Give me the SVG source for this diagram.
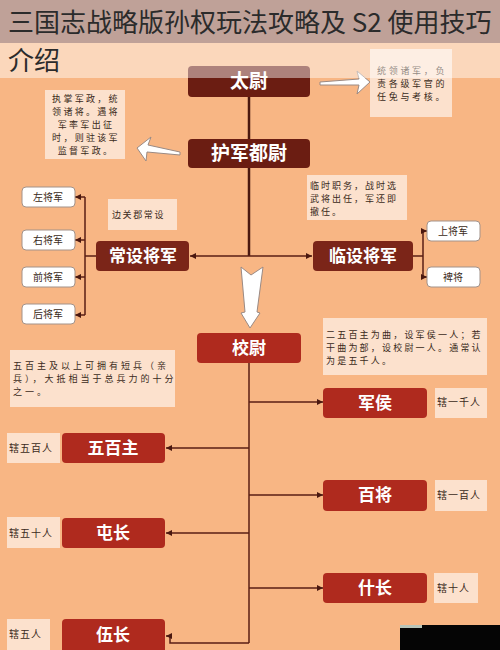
<svg xmlns="http://www.w3.org/2000/svg" width="500" height="650" viewBox="0 0 500 650">
<style>
.note{fill:#FCE1CD}
.nt{font-family:"Noto Sans CJK SC","Noto Sans",sans-serif;font-size:9px;fill:#3a2a20}
.lb{font-family:"Noto Sans CJK SC","Noto Sans",sans-serif;font-size:10px;fill:#3a2a20;letter-spacing:1px}
.b1{fill:#6B1D12}
.b2{fill:#7B2518}
.b3{fill:#AF2A1E}
.bt{font-family:"Noto Sans CJK SC","Noto Sans",sans-serif;font-weight:bold;fill:#ffffff;text-anchor:middle}
.wb{fill:#ffffff;stroke:#a39289;stroke-width:1}
.st{font-family:"Noto Sans CJK SC","Noto Sans",sans-serif;font-size:10px;fill:#3a2a20;text-anchor:middle}
.ln{fill:none;stroke:#5A1E14;stroke-width:1.5}
.lnb{fill:none;stroke:#4A1810;stroke-width:2.5}
.ha{fill:#ffffff;stroke:#9a8a84;stroke-width:1}
</style>
<defs>
<marker id="ah" viewBox="0 0 10 10" refX="10" refY="5" markerWidth="6" markerHeight="6" markerUnits="userSpaceOnUse" orient="auto">
<path d="M0,0 L10,5 L0,10 z" fill="#4A1810"/>
</marker>
</defs>
<rect x="0" y="0" width="500" height="650" fill="#F8B684"/>

<g id="connectors">
<path class="lnb" d="M249,97 V139"/>
<path class="lnb" d="M249,168 V256"/>
<path class="ln" d="M249,256 H190" marker-end="url(#ah)"/>
<path class="ln" d="M249,256 H312" marker-end="url(#ah)"/>
<path class="ln" d="M96,256 H85"/>
<path class="ln" d="M85,197 V315"/>
<path class="ln" d="M85,197 H75" marker-end="url(#ah)"/>
<path class="ln" d="M85,240 H75" marker-end="url(#ah)"/>
<path class="ln" d="M85,277 H75" marker-end="url(#ah)"/>
<path class="ln" d="M85,315 H75" marker-end="url(#ah)"/>
<path class="ln" d="M413,256 H423"/>
<path class="ln" d="M423,231 V277"/>
<path class="ln" d="M423,231 H427" marker-end="url(#ah)"/>
<path class="ln" d="M423,277 H427" marker-end="url(#ah)"/>
<path class="ln" d="M249,363 V643"/>
<path class="ln" d="M249,402 H323" marker-end="url(#ah)"/>
<path class="ln" d="M249,495 H323" marker-end="url(#ah)"/>
<path class="ln" d="M249,588 H323" marker-end="url(#ah)"/>
<path class="ln" d="M249,448 H166" marker-end="url(#ah)"/>
<path class="ln" d="M249,533 H166" marker-end="url(#ah)"/>
<path class="ln" d="M249,643 H170 V636 H166" marker-end="url(#ah)"/>
<polygon class="ha" points="370,82 357,71 359,79 320,82 320,85 359,85 357,94"/>
<polygon class="ha" points="137,148 151,137 148,145 180,152 180,155 147,152 146,161"/>
<polygon class="ha" points="241,267 251,275 263,267 257,312 260,313 250,328 241,313 245,312"/>
</g>

<g id="note-taiwei">
<rect class="note" x="370" y="49" width="82" height="68"/>
<text class="nt" x="377" y="74" letter-spacing="2.7">统领诸军，负</text>
<text class="nt" x="377" y="87" letter-spacing="2.7">责各级军官的</text>
<text class="nt" x="377" y="100" letter-spacing="2.7">任免与考核。</text>
</g>
<g id="note-hujun">
<rect class="note" x="45" y="90" width="80" height="69"/>
<text class="nt" x="86" y="102" text-anchor="middle" letter-spacing="2.3">执掌军政，统</text>
<text class="nt" x="86" y="115" text-anchor="middle" letter-spacing="2.3">领诸将。遇将</text>
<text class="nt" x="86" y="128" text-anchor="middle" letter-spacing="2.3">军率军出征</text>
<text class="nt" x="86" y="141" text-anchor="middle" letter-spacing="2.3">时，则驻该军</text>
<text class="nt" x="86" y="154" text-anchor="middle" letter-spacing="2.3">监督军政。</text>
</g>
<g id="note-linshe">
<rect class="note" x="307" y="175" width="100" height="45"/>
<text class="nt" x="310" y="189" letter-spacing="2">临时职务，战时选</text>
<text class="nt" x="310" y="202" letter-spacing="2">武将出任，军还即</text>
<text class="nt" x="310" y="215" letter-spacing="2">撤任。</text>
</g>
<g id="note-changshe">
<rect class="note" x="108" y="199" width="69" height="31"/>
<text class="nt" x="112" y="218" letter-spacing="1.6">边关郡常设</text>
</g>
<g id="note-wubaizhu">
<rect class="note" x="10" y="350" width="165" height="57"/>
<text class="nt" x="13" y="369" letter-spacing="3">五百主及以上可拥有短兵（亲</text>
<text class="nt" x="13" y="382" letter-spacing="3">兵），大抵相当于总兵力的十分</text>
<text class="nt" x="13" y="395" letter-spacing="3">之一。</text>
</g>
<g id="note-xiaowei">
<rect class="note" x="323" y="318" width="164" height="57"/>
<text class="nt" x="326" y="338" letter-spacing="2.2">二五百主为曲，设军侯一人；若</text>
<text class="nt" x="326" y="351" letter-spacing="2.2">干曲为部，设校尉一人。通常认</text>
<text class="nt" x="326" y="364" letter-spacing="2.2">为是五千人。</text>
</g>

<g id="taiwei"><rect class="b1" x="188" y="66" width="122" height="31" rx="4"/><text class="bt" x="249" y="88" font-size="19">太尉</text></g>
<g id="hujunduwei"><rect class="b1" x="188" y="139" width="122" height="29" rx="4"/><text class="bt" x="249" y="160" font-size="19">护军都尉</text></g>
<g id="changshe"><rect class="b2" x="96" y="241" width="93" height="30" rx="4"/><text class="bt" x="143" y="262" font-size="17">常设将军</text></g>
<g id="linshe"><rect class="b2" x="313" y="241" width="100" height="30" rx="4"/><text class="bt" x="363" y="262" font-size="17">临设将军</text></g>

<g id="zuo"><rect class="wb" x="22" y="187" width="53" height="20" rx="4"/><text class="st" x="48" y="201">左将军</text></g>
<g id="you"><rect class="wb" x="22" y="230" width="53" height="20" rx="4"/><text class="st" x="48" y="244">右将军</text></g>
<g id="qian"><rect class="wb" x="22" y="267" width="53" height="20" rx="4"/><text class="st" x="48" y="281">前将军</text></g>
<g id="hou"><rect class="wb" x="22" y="304" width="53" height="20" rx="4"/><text class="st" x="48" y="318">后将军</text></g>
<g id="shang"><rect class="wb" x="427" y="221" width="53" height="20" rx="4"/><text class="st" x="453" y="235">上将军</text></g>
<g id="pi"><rect class="wb" x="427" y="267" width="53" height="20" rx="4"/><text class="st" x="453" y="281">裨将</text></g>

<g id="xiaowei"><rect class="b3" x="197" y="333" width="104" height="30" rx="4"/><text class="bt" x="249" y="354" font-size="17">校尉</text></g>
<g id="junhou"><rect class="b3" x="323" y="388" width="104" height="30" rx="4"/><text class="bt" x="375" y="409" font-size="17">军侯</text></g>
<g id="baijiang"><rect class="b3" x="323" y="480" width="104" height="31" rx="4"/><text class="bt" x="375" y="501" font-size="17">百将</text></g>
<g id="shizhang"><rect class="b3" x="323" y="573" width="104" height="30" rx="4"/><text class="bt" x="375" y="594" font-size="17">什长</text></g>
<g id="wubaizhu"><rect class="b3" x="62" y="433" width="103" height="30" rx="4"/><text class="bt" x="113" y="454" font-size="17">五百主</text></g>
<g id="tunzhang"><rect class="b3" x="62" y="518" width="103" height="30" rx="4"/><text class="bt" x="113" y="539" font-size="17">屯长</text></g>
<g id="wuzhang"><rect class="b3" x="62" y="619" width="103" height="36" rx="4"/><text class="bt" x="113" y="641" font-size="17">伍长</text></g>

<g id="lbl-500"><rect class="note" x="7" y="433" width="53" height="30"/><text class="lb" x="9" y="452">辖五百人</text></g>
<g id="lbl-50"><rect class="note" x="7" y="517" width="53" height="31"/><text class="lb" x="9" y="537">辖五十人</text></g>
<g id="lbl-5"><rect class="note" x="7" y="619" width="43" height="31"/><text class="lb" x="9" y="638">辖五人</text></g>
<g id="lbl-1000"><rect class="note" x="435" y="388" width="52" height="30"/><text class="lb" x="437" y="406">辖一千人</text></g>
<g id="lbl-100"><rect class="note" x="435" y="480" width="52" height="31"/><text class="lb" x="437" y="499">辖一百人</text></g>
<g id="lbl-10"><rect class="note" x="434" y="573" width="44" height="30"/><text class="lb" x="437" y="592">辖十人</text></g>

<rect x="400" y="625" width="100" height="25" fill="#050505"/>
<rect x="400" y="625" width="22" height="3" fill="#b8c4b8"/>

<rect x="0" y="43" width="500" height="35" fill="#ffffff" fill-opacity="0.45"/>
<rect x="0" y="0" width="500" height="43" fill="#BFA198"/>
<text x="8" y="32" font-family="Noto Sans CJK SC, Noto Sans, sans-serif" font-size="26" fill="#2b2b2b">三国志战略版孙权玩法攻略及 S2 使用技巧</text>
<text x="8" y="70" font-family="Noto Sans CJK SC, Noto Sans, sans-serif" font-size="26" fill="#2b2b2b">介绍</text>
</svg>
